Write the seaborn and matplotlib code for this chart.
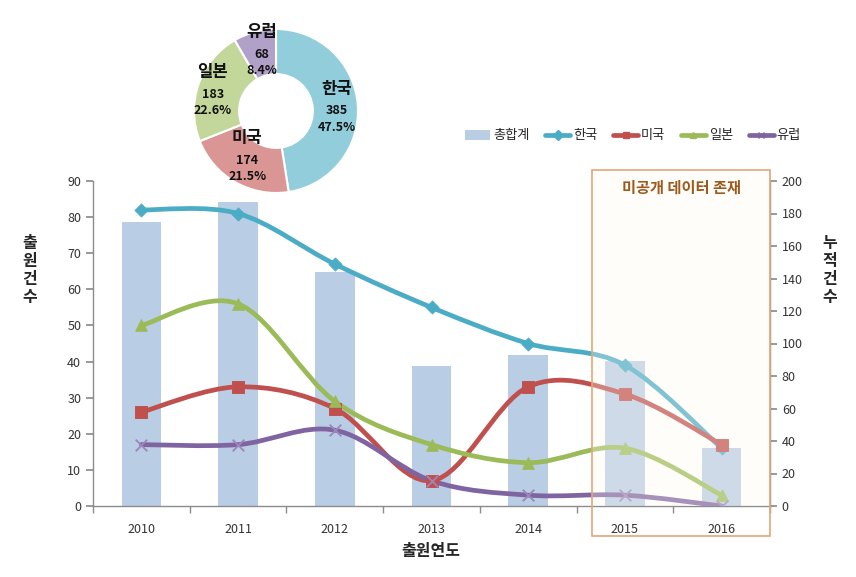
import matplotlib
matplotlib.use('Agg')
import matplotlib.pyplot as plt
import seaborn as sns
from matplotlib.path import Path
from matplotlib.patches import PathPatch, Rectangle, Patch
from matplotlib.lines import Line2D

# data
years = ['2010', '2011', '2012', '2013', '2014', '2015', '2016']
korea = [82, 81, 67, 55, 45, 39, 16]
usa = [26, 33, 27, 7, 33, 31, 17]
japan = [50, 56, 29, 17, 12, 16, 3]
europe = [17, 17, 21, 7, 3, 3, 0]
totals = [175, 187, 144, 86, 93, 89, 36]

series_names = ['한국', '미국', '일본', '유럽']
series_colors = ['#4BACC6', '#C0504D', '#9BBB59', '#8064A2']
series_markers = ['D', 's', '^', 'x']

pie_labels = ['한국', '미국', '일본', '유럽']
pie_values = [385, 174, 183, 68]
pie_pcts = ['47.5%', '21.5%', '22.6%', '8.4%']
pie_colors = ['#92CDDC', '#DA9694', '#C4D79B', '#B1A0C7']

sns.set_theme(style='white')
plt.rcParams['font.family'] = ['Noto Sans CJK KR', 'DejaVu Sans']
plt.rcParams['axes.unicode_minus'] = False


def smooth_path(xs, ys):
    # excel-like smoothed line (catmull-rom as cubic bezier)
    n = len(xs)
    verts = [(xs[0], ys[0])]
    codes = [Path.MOVETO]
    for i in range(n - 1):
        xp, yp = (xs[i - 1], ys[i - 1]) if i > 0 else (xs[i], ys[i])
        xn, yn = (xs[i + 2], ys[i + 2]) if i + 2 < n else (xs[i + 1], ys[i + 1])
        c1 = (xs[i] + (xs[i + 1] - xp) / 6, ys[i] + (ys[i + 1] - yp) / 6)
        c2 = (xs[i + 1] - (xn - xs[i]) / 6, ys[i + 1] - (yn - ys[i]) / 6)
        verts += [c1, c2, (xs[i + 1], ys[i + 1])]
        codes += [Path.CURVE4] * 3
    return Path(verts, codes)


fig = plt.figure(figsize=(8.56, 5.77), dpi=100)
ax = fig.add_axes([93 / 856, 1 - 506 / 577, 677 / 856, 325 / 577])
ax2 = ax.twinx()

# bars: cumulative total on the right axis
sns.barplot(x=years, y=totals, ax=ax2, color='#B9CDE5', saturation=1,
            width=0.41, edgecolor='none')
ax2.set_ylim(0, 200)
ax2.set_yticks(range(0, 201, 20))
ax2.set_ylabel('')

# lines on the left axis, drawn above the bars
ax.set_zorder(ax2.get_zorder() + 1)
ax.patch.set_visible(False)
xs = list(range(len(years)))
for name, vals, col, mk in zip(series_names, [korea, usa, japan, europe],
                               series_colors, series_markers):
    ax.add_patch(PathPatch(smooth_path(xs, vals), facecolor='none',
                           edgecolor=col, lw=3.4, capstyle='round',
                           joinstyle='round', zorder=3))
    if mk == 'x':
        sns.scatterplot(x=xs, y=vals, ax=ax, marker='x', color='#9B87B8',
                        s=70, linewidth=1.3, zorder=4, legend=False)
    else:
        sns.scatterplot(x=xs, y=vals, ax=ax, marker=mk, color=col,
                        s=70 if mk != 'D' else 45, edgecolor=col,
                        zorder=4, legend=False)

ax.set_xlim(-0.5, 6.5)
ax.set_ylim(0, 90)
ax.set_yticks(range(0, 91, 10))
ax.set_xticks(xs)
ax.set_xticklabels(years)
ax.set_xticks([i - 0.5 for i in range(len(years) + 1)], minor=True)

for a in (ax, ax2):
    for s in a.spines.values():
        s.set_color('#8C8C8C')
        s.set_linewidth(1)
    a.spines['top'].set_visible(False)
ax.spines['right'].set_visible(False)
ax2.spines['left'].set_visible(False)
ax2.spines['bottom'].set_visible(False)

ax.tick_params(axis='x', which='major', length=0, pad=12, labelsize=9,
               colors='#333333')
ax.tick_params(axis='x', which='minor', length=5, direction='out',
               color='#8C8C8C', bottom=True)
ax.tick_params(axis='y', length=5, direction='out', color='#8C8C8C',
               labelsize=9, labelcolor='#333333', left=True)
ax2.tick_params(axis='y', length=5, direction='out', color='#8C8C8C',
                labelsize=9, labelcolor='#333333', right=True)
ax.set_ylabel('')
ax.set_xlabel('')

# axis titles
fig.text(30 / 856, 1 - 270 / 577, '출\n원\n건\n수', ha='center', va='center',
         fontsize=11.5, fontweight='bold', linespacing=1.15)
fig.text(830 / 856, 1 - 270 / 577, '누\n적\n건\n수', ha='center', va='center',
         fontsize=11.5, fontweight='bold', linespacing=1.15)
fig.text(431 / 856, 1 - 551 / 577, '출원연도', ha='center', va='center',
         fontsize=11.5, fontweight='bold')

# undisclosed-data box over 2015-2016
box_x0 = (592 - 93) / 677
box_y0 = (506 - 536) / 325
box_top = (506 - 170) / 325
fig.add_artist(Rectangle((box_x0, 0), 1 - box_x0, box_top,
                         transform=ax.transAxes, facecolor='#FFFAF0', alpha=0.3,
                         edgecolor='none', zorder=5))
fig.add_artist(Rectangle((box_x0, box_y0), 1 - box_x0, box_top - box_y0,
                         transform=ax.transAxes, facecolor='none',
                         edgecolor='#E3A774', lw=1.2, zorder=6))
fig.text(681 / 856, 1 - 188 / 577, '미공개 데이터 존재', ha='center', va='center',
         fontsize=11, fontweight='bold', color='#9C5A1C', zorder=7)

# legend
handles = [Patch(facecolor='#B9CDE5', edgecolor='none')]
handles += [Line2D([], [], color=c, lw=3.4, marker=m, markersize=5,
                   markeredgecolor=c) for c, m in zip(series_colors, series_markers)]
fig.legend(handles, ['총합계'] + series_names, loc='center',
           bbox_to_anchor=(633 / 856, 1 - 136 / 577), ncol=5, frameon=False,
           fontsize=9.5, handlelength=1.9, handletextpad=0.2, columnspacing=1.2)

# donut chart of totals by country
axp = fig.add_axes([194 / 856, 1 - 193 / 577, 164 / 856, 164 / 577])
axp.pie(pie_values, colors=pie_colors, startangle=90, counterclock=False,
        wedgeprops=dict(width=0.55, edgecolor='white', linewidth=1.5))
axp.set_xlim(-1.0, 1.0)
axp.set_ylim(-1.0, 1.0)
axp.set_aspect('equal')
label_pos = [(0.74, 0.0), (-0.35, -0.6), (-0.77, 0.2), (-0.17, 0.69)]
for (lx, ly), name, val, pct in zip(label_pos, pie_labels, pie_values, pie_pcts):
    axp.text(lx, ly + 0.27, name, ha='center', va='center', fontsize=12,
             fontweight='bold', color='#111111')
    axp.text(lx, ly, str(val), ha='center', va='center', fontsize=9,
             fontweight='bold', color='#111111')
    axp.text(lx, ly - 0.2, pct, ha='center', va='center', fontsize=9,
             fontweight='bold', color='#111111')

fig.savefig('out.png', dpi=100)
